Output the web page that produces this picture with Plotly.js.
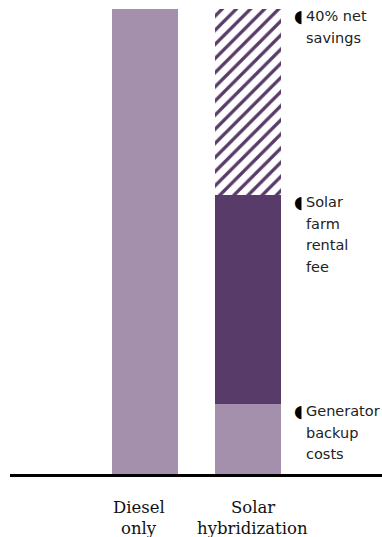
<!DOCTYPE html>
<html>
<head>
<meta charset="utf-8">
<script src="https://cdn.plot.ly/plotly-3.0.1.min.js"></script>
<style>html,body{margin:0;padding:0;background:#fff;}#chart{width:382px;height:537px;}</style>
</head>
<body>
<div id="chart"></div>
<script>
// Data
var categories = ["Diesel only", "Solar hybridization"];
var categoryLines = [["Diesel", "only"], ["Solar", "hybridization"]];
var generatorCosts = [100, 15];   // Diesel full cost / generator backup costs
var rentalFee = [0, 45];          // Solar farm rental fee
var netSavings = [0, 40];         // 40% net savings (hatched)
var segmentLabels = [
  ["40% net", "savings"],
  ["Solar", "farm", "rental", "fee"],
  ["Generator", "backup", "costs"]
];
var labelTops = [100, 60, 15];

var light = "#A48FAC", dark = "#583B68";
var barWidth = 0.64;

var traces = [
  {type: "bar", x: categories, y: generatorCosts, width: barWidth,
   marker: {color: light, line: {width: 0}}, hoverinfo: "none"},
  {type: "bar", x: categories, y: rentalFee, width: barWidth,
   marker: {color: dark, line: {width: 0}}, hoverinfo: "none"},
  {type: "bar", x: categories, y: netSavings, width: barWidth,
   marker: {color: "#ffffff", line: {width: 0},
            pattern: {shape: "/", fgcolor: dark, bgcolor: "#ffffff", size: 10, solidity: 0.33}},
   hoverinfo: "none"}
];

var annotations = [];
var xEdge = 1 + barWidth / 2;
segmentLabels.forEach(function (lines, k) {
  annotations.push({xref: "x", yref: "y", x: xEdge, y: labelTops[k], xanchor: "left", yanchor: "middle",
    xshift: 11, yshift: -7, text: "\u25D6", showarrow: false,
    font: {family: "DejaVu Sans", size: 17, color: "#000"}});
  lines.forEach(function (t, i) {
    annotations.push({xref: "x", yref: "y", x: xEdge, y: labelTops[k], xanchor: "left", yanchor: "middle",
      xshift: 23, yshift: -7 - i * 21.5, text: t, showarrow: false, align: "left",
      font: {family: "DejaVu Sans", size: 14.5, color: "#222"}});
  });
});
var catShift = [-6, 4.5];
categoryLines.forEach(function (lines, c) {
  lines.forEach(function (t, i) {
    annotations.push({xref: "x", yref: "paper", x: categories[c], y: 0, xanchor: "center", yanchor: "middle",
      xshift: catShift[c], yshift: -33.5 - i * 21, text: t, showarrow: false,
      font: {family: "DejaVu Serif", size: 16.5, color: "#111"}});
  });
});

var layout = {
  width: 382, height: 537,
  margin: {l: 10, r: 0, t: 9, b: 63, pad: 0},
  paper_bgcolor: "#fff", plot_bgcolor: "#fff",
  barmode: "stack", showlegend: false,
  xaxis: {type: "category", range: [-1.311, 2.301], showgrid: false, zeroline: false,
          showline: true, linewidth: 3, linecolor: "#000",
          ticks: "", showticklabels: false, fixedrange: true},
  yaxis: {range: [0, 100], showgrid: false, zeroline: false, showticklabels: false, showline: false, fixedrange: true},
  annotations: annotations
};

Plotly.newPlot("chart", traces, layout, {displayModeBar: false, staticPlot: true});
</script>
</body>
</html>
